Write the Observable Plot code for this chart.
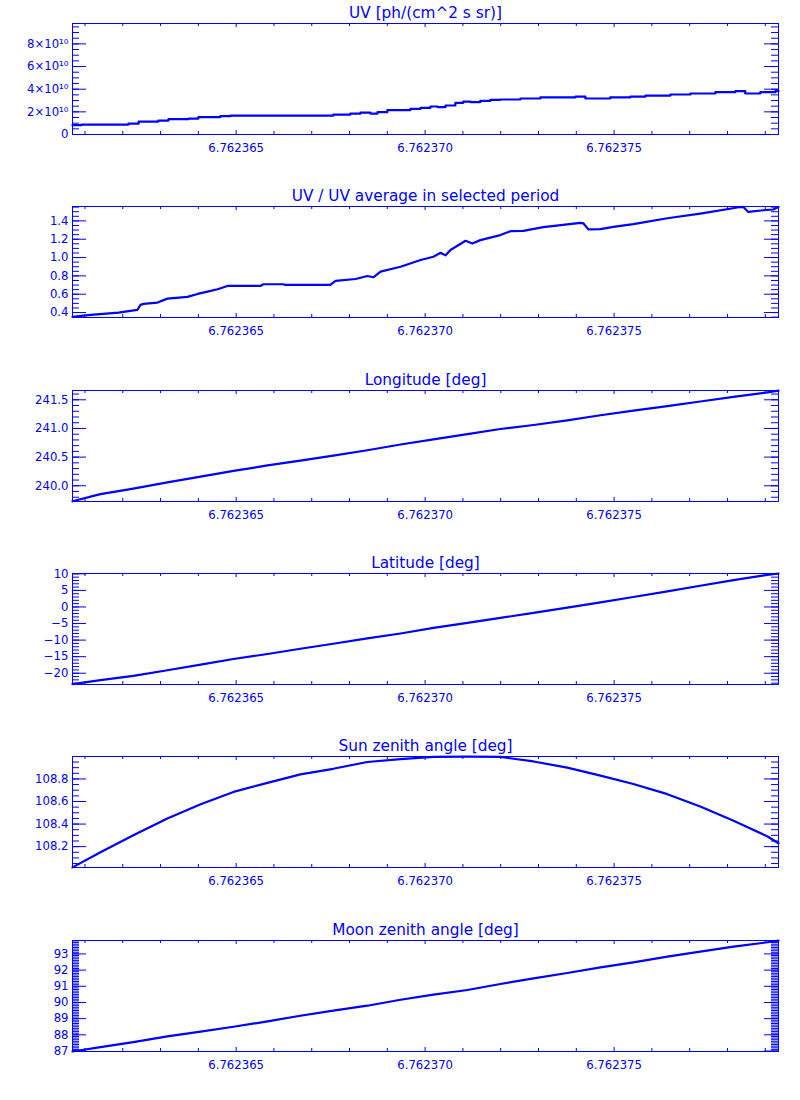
<!DOCTYPE html>
<html><head><meta charset="utf-8">
<script src="https://cdn.jsdelivr.net/npm/d3@7"></script>
<script src="https://cdn.jsdelivr.net/npm/@observablehq/plot@0.6"></script>
<style>
body{margin:0;background:#fff}
#charts svg{display:block}
</style>
</head><body><div id="charts"></div>
<script>
// ---------- data ----------
const xDomain = [6.76236067, 6.76237935];
const xMajorTicks = [6.762365, 6.762370, 6.762375];
const xMinorTicks = [6.762361, 6.762362, 6.762363, 6.762364, 6.762366, 6.762367, 6.762368, 6.762369,
  6.762371, 6.762372, 6.762373, 6.762374, 6.762376, 6.762377, 6.762378, 6.762379];

// Panel 1: UV (step data)
const uvT = [6.76236067, 6.76236091, 6.76236215, 6.76236242, 6.76236294, 6.76236321, 6.76236374, 6.76236400,
  6.76236458, 6.76236485, 6.76236757, 6.76236802, 6.76236829, 6.76236855, 6.76236874, 6.76236900,
  6.76236961, 6.76236988, 6.76237014, 6.76237033, 6.76237054, 6.76237080, 6.76237101, 6.76237120,
  6.76237146, 6.76237173, 6.76237199, 6.76237252, 6.76237305, 6.76237398, 6.76237424, 6.76237490,
  6.76237543, 6.76237583, 6.76237649, 6.76237702, 6.76237768, 6.76237821, 6.76237847, 6.76237887,
  6.76237927, 6.76237935];
const uvV = [0.82e10, 0.88e10, 0.96e10, 1.14e10, 1.23e10, 1.35e10, 1.41e10, 1.53e10,
  1.62e10, 1.67e10, 1.76e10, 1.85e10, 1.94e10, 1.85e10, 1.97e10, 2.15e10,
  2.27e10, 2.35e10, 2.47e10, 2.42e10, 2.56e10, 2.80e10, 2.91e10, 2.86e10,
  2.97e10, 3.06e10, 3.09e10, 3.18e10, 3.27e10, 3.35e10, 3.18e10, 3.27e10,
  3.35e10, 3.44e10, 3.53e10, 3.62e10, 3.74e10, 3.83e10, 3.62e10, 3.74e10,
  3.83e10, 3.83e10];
const uvTicks = [0, 2e10, 4e10, 6e10, 8e10];
const uvTickLabels = ["0", "2×10¹⁰", "4×10¹⁰", "6×10¹⁰", "8×10¹⁰"];

// Panel 2: UV / average
const ratioT = [6.76236067, 6.76236115, 6.76236189, 6.76236220, 6.76236239, 6.76236247, 6.76236255, 6.76236292,
  6.76236318, 6.76236371, 6.76236398, 6.76236424, 6.76236451, 6.76236477, 6.76236564, 6.76236572,
  6.76236625, 6.76236630, 6.76236749, 6.76236763, 6.76236816, 6.76236847, 6.76236863, 6.76236882,
  6.76236935, 6.76236988, 6.76237022, 6.76237041, 6.76237054, 6.76237067, 6.76237107, 6.76237125,
  6.76237146, 6.76237199, 6.76237226, 6.76237260, 6.76237313, 6.76237411, 6.76237419, 6.76237432,
  6.76237464, 6.76237498, 6.76237551, 6.76237641, 6.76237728, 6.76237826, 6.76237842, 6.76237855,
  6.76237895, 6.76237921, 6.76237935];
const ratioV = [0.353, 0.375, 0.400, 0.418, 0.430, 0.484, 0.495, 0.509,
  0.552, 0.571, 0.603, 0.628, 0.654, 0.690, 0.690, 0.709,
  0.709, 0.701, 0.701, 0.745, 0.766, 0.799, 0.785, 0.846,
  0.900, 0.973, 1.009, 1.052, 1.024, 1.082, 1.183, 1.154,
  1.190, 1.245, 1.288, 1.291, 1.332, 1.378, 1.372, 1.307,
  1.310, 1.335, 1.364, 1.429, 1.480, 1.546, 1.552, 1.498,
  1.516, 1.524, 1.552];
const ratioTicks = [0.4, 0.6, 0.8, 1.0, 1.2, 1.4];

// Panels 3-6 share a time grid
const tGrid = [6.76236067, 6.76236141, 6.76236228, 6.76236318, 6.76236406, 6.76236493, 6.76236583, 6.76236670,
  6.76236757, 6.76236847, 6.76236935, 6.76237022, 6.76237112, 6.76237199, 6.76237287, 6.76237376,
  6.76237464, 6.76237551, 6.76237641, 6.76237728, 6.76237816, 6.76237906, 6.76237935];
const lonV = [239.73, 239.855, 239.95, 240.06, 240.16, 240.26, 240.355, 240.44,
  240.525, 240.62, 240.72, 240.81, 240.90, 240.99, 241.06, 241.14,
  241.23, 241.31, 241.39, 241.47, 241.55, 241.63, 241.66];
const lonTicks = [240.0, 240.5, 241.0, 241.5];
const latV = [-23.3, -22.1, -20.8, -19.1, -17.4, -15.7, -14.2, -12.6,
  -11.1, -9.5, -8.0, -6.3, -4.8, -3.3, -1.8, -0.2,
  1.4, 3.0, 4.7, 6.4, 8.1, 9.7, 10.1];
const latTicks = [-20, -15, -10, -5, 0, 5, 10];
const sunV = [108.016, 108.15, 108.30, 108.45, 108.575, 108.685, 108.765, 108.84,
  108.89, 108.95, 108.975, 108.995, 108.998, 108.995, 108.955, 108.90,
  108.83, 108.755, 108.665, 108.555, 108.43, 108.29, 108.23];
const sunTicks = [108.2, 108.4, 108.6, 108.8];
const moonV = [86.97, 87.24, 87.55, 87.9, 88.2, 88.5, 88.83, 89.18,
  89.5, 89.8, 90.17, 90.48, 90.77, 91.14, 91.49, 91.82,
  92.17, 92.48, 92.83, 93.14, 93.45, 93.72, 93.82];
const moonTicks = [87, 88, 89, 90, 91, 92, 93];

// ---------- drawing ----------
const BLUE = "#0000ff";
const W = 800, ML = 72, MR = 22, MT = 23, IH = 111;
const IW = W - ML - MR;

function minorRange(a, b, step) {
  const out = [];
  const n = Math.round((b - a) / step);
  for (let i = 0; i <= n; i++) out.push(+(a + i * step).toFixed(6));
  return out;
}

function panel({title, t, v, curve = "linear", domain, major, minor, fmt, height}) {
  return Plot.plot({
    width: W, height,
    marginLeft: ML, marginRight: MR, marginTop: MT, marginBottom: height - MT - IH,
    x: {domain: xDomain},
    y: {domain},
    style: {fontFamily: "DejaVu Sans", fontSize: "11.7px", color: BLUE, background: "white"},
    marks: [
      Plot.frame({stroke: BLUE, strokeWidth: 1}),
      // y ticks, left and right (inward)
      Plot.tickY(major, {y: d => d, stroke: BLUE, insetRight: IW - 14}),
      Plot.tickY(major, {y: d => d, stroke: BLUE, insetLeft: IW - 14}),
      Plot.tickY(minor, {y: d => d, stroke: BLUE, insetRight: IW - 7}),
      Plot.tickY(minor, {y: d => d, stroke: BLUE, insetLeft: IW - 7}),
      // x ticks, top and bottom (inward)
      Plot.tickX(xMajorTicks, {x: d => d, stroke: BLUE, insetTop: IH - 4}),
      Plot.tickX(xMajorTicks, {x: d => d, stroke: BLUE, insetBottom: IH - 4}),
      Plot.tickX(xMinorTicks, {x: d => d, stroke: BLUE, insetTop: IH - 3}),
      Plot.tickX(xMinorTicks, {x: d => d, stroke: BLUE, insetBottom: IH - 3}),
      Plot.axisY(major, {tickSize: 0, tickPadding: 4, tickFormat: fmt, label: null}),
      Plot.axisX(xMajorTicks, {tickSize: 0, tickPadding: 9, tickFormat: d3.format(".6f"), label: null}),
      Plot.line(v, {x: t, y: v, curve, stroke: BLUE, strokeWidth: 2.2}),
      Plot.text([title], {frameAnchor: "top", dy: -6, lineAnchor: "bottom", fontSize: 15.3, fill: BLUE})
    ]
  });
}

const charts = document.getElementById("charts");
const specs = [
  {title: "UV [ph/(cm^2 s sr)]", t: uvT, v: uvV, curve: "step-after", domain: [0, 9.8e10],
   major: uvTicks, minor: minorRange(0.5e10, 9.5e10, 0.5e10),
   fmt: d => uvTickLabels[uvTicks.indexOf(d)], height: 183},
  {title: "UV / UV average in selected period", t: ratioT, v: ratioV, domain: [0.346, 1.557],
   major: ratioTicks, minor: minorRange(0.35, 1.55, 0.05), fmt: d3.format(".1f"), height: 184},
  {title: "Longitude [deg]", t: tGrid, v: lonV, domain: [239.726, 241.662],
   major: lonTicks, minor: minorRange(239.8, 241.6, 0.1), fmt: d3.format(".1f"), height: 183},
  {title: "Latitude [deg]", t: tGrid, v: latV, domain: [-23.4, 10.1],
   major: latTicks, minor: minorRange(-23, 10, 1), fmt: d => d3.format("d")(d).replace("-", "−"), height: 183},
  {title: "Sun zenith angle [deg]", t: tGrid, v: sunV, domain: [108.015, 108.999],
   major: sunTicks, minor: minorRange(108.05, 108.95, 0.05), fmt: d3.format(".1f"), height: 184},
  {title: "Moon zenith angle [deg]", t: tGrid, v: moonV, domain: [86.97, 93.83],
   major: moonTicks, minor: minorRange(87.0, 93.8, 0.1), fmt: d3.format("d"), height: 183}
];
for (const s of specs) charts.appendChild(panel(s));
</script>
</body></html>
